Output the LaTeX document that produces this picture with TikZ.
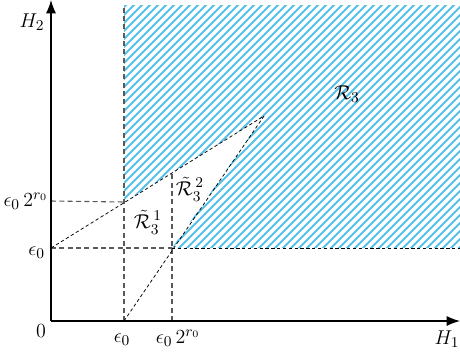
\documentclass[tikz,border=0pt]{standalone}
\usepackage{amsmath,amssymb}
\usetikzlibrary{arrows.meta}
\definecolor{hatchblue}{RGB}{86,192,232}

\begin{document}
\begin{tikzpicture}[
    x=0.6pt, y=0.6pt,
    axis/.style={-{Latex[length=8pt,width=6pt]}, line width=0.7pt},
    gridline/.style={gray!70!black, line width=0.65pt, dash pattern=on 3pt off 2pt},
    bound/.style={black, line width=0.45pt, dash pattern=on 2pt off 1.5pt},
    hatch/.style={hatchblue, line width=1.1pt},
    lbl/.style={inner sep=0.5pt, font=\fontsize{13}{15}\selectfont},
]
\useasboundingbox (0,0) rectangle (460,355);

% Key points
\coordinate (O) at (51,34);
\coordinate (xend) at (460,34);
\coordinate (yend) at (51,355);
\coordinate (a) at (124,34);
\coordinate (b) at (172,34);
\coordinate (c) at (51,107);
\coordinate (d) at (51,154);
\coordinate (p) at (124,153);
\coordinate (q) at (172,107);
\coordinate (r) at (172,181);
\coordinate (apex) at (264,239);
\coordinate (top) at (124,350);
\coordinate (tr) at (460,350);
\coordinate (br) at (460,107);

% Hatched region
\begin{scope}
  \clip (top) -- (tr) -- (br) -- (q) -- (apex) -- (p) -- cycle;
  \foreach \c in {-360,-352,...,460}
    \draw[hatch] (\c,0) -- ++(420,420);
\end{scope}

% Grid lines
\draw[gridline] (a) -- (top);
\draw[gridline] (c) -- (q);
\draw[gridline] (d) -- (p);
\draw[gridline] (b) -- (r);
\draw[bound] (q) -- (br);

% Region boundaries
\draw[bound] (c) -- (apex);
\draw[bound] (a) -- (apex);

% Axes
\draw[axis] (O) -- (xend);
\draw[axis] (O) -- (yend);

% Labels
\node[lbl] (lzero) at (41,24) {$0$};
\node[lbl] (lh1) at (447,16) {$H_1$};
\node[lbl] (lh2) at (32,333) {$H_2$};
\node[lbl, anchor=east] (ly1) at (46,102) {$\epsilon_0$};
\node[lbl, anchor=east] (ly2) at (49,154) {$\epsilon_0\,2^{r_0}$};
\node[lbl] (lx1) at (122,15) {$\epsilon_0$};
\node[lbl] (lx2) at (178,17) {$\epsilon_0\,2^{r_0}$};
\node[lbl] (r3) at (347,261) {$\mathcal{R}_3$};
\node[lbl] (r31) at (148,133) {$\tilde{\mathcal{R}}_3^{\,1}$};
\node[lbl] (r32) at (190,166) {$\tilde{\mathcal{R}}_3^{\,2}$};
\end{tikzpicture}
\end{document}
